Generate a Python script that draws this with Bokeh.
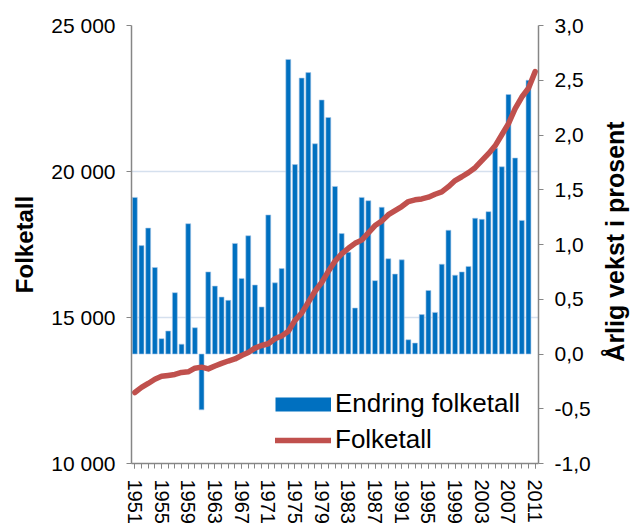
import math
from bokeh.plotting import figure
from bokeh.models import Range1d, LinearAxis, FixedTicker, Legend, LegendItem, Label
from bokeh.embed import file_html
from bokeh.resources import INLINE

years = list(range(1951, 2012))

# annual growth in percent (1951-2010)
growth = [1.43, 0.99, 1.15, 0.79, 0.14, 0.21, 0.56, 0.09, 1.19, 0.24,
          -0.51, 0.75, 0.62, 0.52, 0.49, 1.01, 0.69, 1.08, 0.63, 0.43,
          1.27, 0.65, 0.78, 2.69, 1.73, 2.52, 2.57, 1.92, 2.32, 2.16,
          1.53, 1.10, 0.93, 0.42, 1.43, 1.40, 0.67, 1.34, 0.87, 0.73,
          0.86, 0.13, 0.10, 0.36, 0.58, 0.38, 0.82, 1.13, 0.72, 0.75,
          0.80, 1.24, 1.23, 1.30, 1.88, 1.71, 2.37, 1.79, 1.22, 2.50]

# population (1951-2011)
population = [12430, 12605, 12740, 12885, 12985, 13015, 13050, 13120, 13140, 13265,
              13300, 13240, 13340, 13430, 13510, 13580, 13700, 13800, 13950, 14040,
              14100, 14270, 14370, 14530, 14900, 15150, 15520, 15900, 16200, 16580,
              16930, 17180, 17370, 17540, 17650, 17900, 18150, 18300, 18520, 18660,
              18800, 18970, 19030, 19060, 19120, 19220, 19300, 19480, 19690, 19820,
              19960, 20130, 20370, 20610, 20880, 21260, 21640, 22150, 22550, 22850,
              23420]

left_ticks = [10000, 15000, 20000, 25000]
left_labels = ["10 000", "15 000", "20 000", "25 000"]
right_ticks = [-1.0, -0.5, 0.0, 0.5, 1.0, 1.5, 2.0, 2.5, 3.0]
right_labels = ["-1,0", "-0,5", "0,0", "0,5", "1,0", "1,5", "2,0", "2,5", "3,0"]
label_years = list(range(1951, 2012, 4))
right_title = "Årlig vekst i prosent"

FONT = "Liberation Sans"
AXIS_COLOR = "#868686"

p = figure(width=632, height=526, output_backend="svg", toolbar_location=None,
           x_range=Range1d(1950.5, 2011.5), y_range=Range1d(10000, 25000),
           min_border_left=131, min_border_right=94, min_border_top=25,
           min_border_bottom=60)
p.extra_y_ranges = {"pct": Range1d(-1.0, 3.0)}
p.outline_line_color = None
p.background_fill_color = "white"
p.border_fill_color = "white"

bars = p.vbar(x=years[:len(growth)], top=growth, bottom=0, width=0.74,
              y_range_name="pct", fill_color="#0070C0",
              line_color="#A9C8E8", line_width=0.6)
line = p.line(x=years, y=population, line_color="#C0504D", line_width=5.5,
              line_cap="round", line_join="round")
swatch = p.line(x=years[:1], y=[float("nan")], line_color="#0070C0", line_width=14)

# left axis
ly = p.yaxis[0]
ly.ticker = FixedTicker(ticks=left_ticks)
ly.major_label_overrides = dict(zip(left_ticks, left_labels))
ly.axis_label = "Folketall"
ly.axis_label_standoff = 10
ly.axis_label_text_font = FONT
ly.axis_label_text_font_size = "24px"
ly.axis_label_text_font_style = "bold"
ly.axis_label_text_color = "black"

# right axis (ticks)
ry = LinearAxis(y_range_name="pct", ticker=FixedTicker(ticks=right_ticks))
ry.major_label_overrides = dict(zip(right_ticks, right_labels))
p.add_layout(ry, "right")

for ax in (ly, ry):
    ax.major_label_text_font_size = "21px"
    ax.major_label_standoff = 11

# bottom axis
bx = p.xaxis[0]
bx.ticker = FixedTicker(ticks=label_years, minor_ticks=years)
bx.major_label_orientation = -math.pi / 2
bx.major_label_text_font_size = "20px"
bx.major_label_standoff = 11
bx.minor_tick_out = 5
bx.minor_tick_in = 0

for ax in (ly, ry, bx):
    ax.major_label_text_font = FONT
    ax.major_label_text_color = "black"
    ax.axis_line_color = AXIS_COLOR
    ax.major_tick_line_color = AXIS_COLOR
    ax.minor_tick_line_color = AXIS_COLOR if ax is bx else None
    ax.major_tick_out = 5
    ax.major_tick_in = 0
    ax.axis_line_width = 1.5

p.xgrid.grid_line_color = None
p.ygrid.grid_line_color = "#D5E0EE"
p.ygrid.grid_line_width = 1.5

# right axis title (reads bottom-to-top), in the right side panel
title_r = Label(x=21, y=222, x_units="screen", y_units="screen",
                text=right_title, angle=math.pi / 2,
                text_align="center", text_baseline="middle",
                text_font=FONT, text_font_size="25px", text_font_style="bold",
                text_color="black")
p.add_layout(title_r, "right")

legend = Legend(items=[LegendItem(label="Endring folketall", renderers=[swatch]),
                       LegendItem(label="Folketall", renderers=[line])],
                location=(144, 8), orientation="vertical",
                label_text_font=FONT, label_text_font_size="26px",
                label_text_color="black",
                glyph_width=56, glyph_height=30, label_standoff=4, spacing=5,
                padding=0, margin=0, border_line_color=None,
                background_fill_alpha=0)
p.add_layout(legend)

open("out.html", "w").write(file_html(p, INLINE))
